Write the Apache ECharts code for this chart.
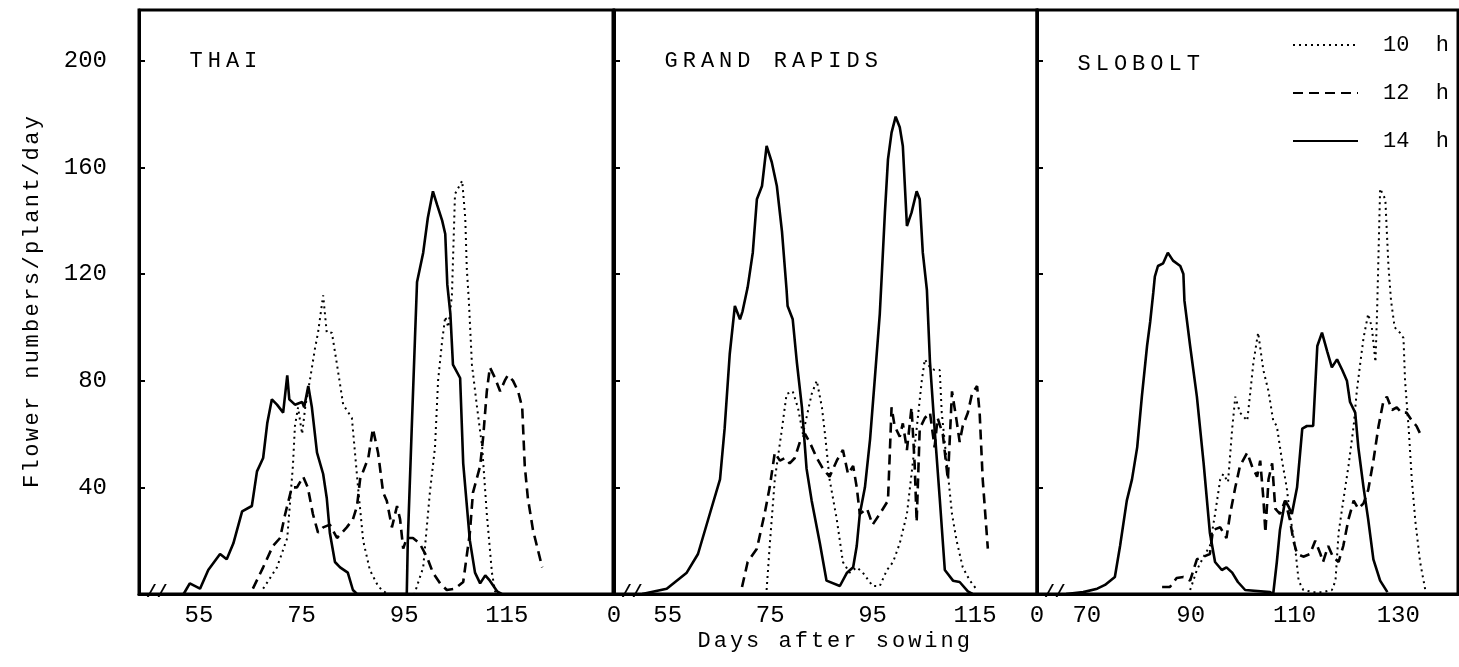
<!DOCTYPE html>
<html>
<head>
<meta charset="utf-8">
<script src="https://cdn.jsdelivr.net/npm/echarts@6/dist/echarts.min.js"></script>
<style>html,body{margin:0;padding:0;background:#fff}#c{width:1459px;height:667px}</style>
</head>
<body>
<div id="c"></div>
<script>
// ---- data: [day after sowing, flowers/plant/day] ----
const panelNames = ['THAI', 'GRAND RAPIDS', 'SLOBOLT'];
const seriesNames = ['10 h', '12 h', '14 h'];
const xTickLabels = [[55, 75, 95, 115], [55, 75, 95, 115], [70, 90, 110, 130]];
const yTickLabels = [40, 80, 120, 160, 200];

const thai10 = [[67.5,2],[70.2,10],[72.2,21],[73.3,48],[73.7,63],[74.3,70],[75.1,60],[75.7,70],[76.6,80],[77.6,92],[78.2,98],[79.2,112],[79.9,98],[80.9,98],[81.9,86],[83.1,71],[84.8,66],[85.4,53],[86,40],[87,20],[88.3,9],[89.9,3],[90.9,1],[92,0],[97,0],[97.5,3],[98.7,10],[100,38],[101,55],[101.6,80],[102.4,95],[103,104],[103.6,100],[104.3,112],[104.9,150],[106.3,155],[106.9,141],[107.2,122],[107.6,110],[108.2,86],[109.2,70],[110.2,55],[111.1,30],[112.1,8],[112.7,1],[113.5,0]];
const thai12 = [[65.5,2],[67.5,10],[69.4,18],[70.8,21],[71.8,30],[73.1,40],[74.1,40],[75.3,44],[76.2,40],[77.2,30],[78.2,23],[79.2,25],[80.5,26],[81.9,21],[83.8,25],[85,28],[85.8,33],[86.4,43],[87,46],[88,51],[88.9,62],[89.9,53],[90.9,38],[91.6,35],[92.6,25],[93.6,33],[94.2,28],[94.8,17],[95.5,21],[96.7,21],[98,19],[99.4,14],[100.6,8],[102,4],[103.3,1.5],[104.9,2],[106.5,4.5],[107.8,23],[108.4,38],[109.8,48],[110.4,59],[111.1,76],[111.7,85],[112.7,81],[113.7,76],[114.6,80],[115.2,82],[116.2,80],[117.2,76],[118,70],[118.5,48],[119.1,36],[120.1,24],[121.9,10]];
const thai14 = [[52,0],[53.2,4],[55.2,2],[56.8,9],[59.1,15],[60.4,13],[61.7,19],[63.4,31],[65.3,33],[66.3,46],[67.5,51],[68.3,64],[69.2,73],[70.2,71],[71.4,68],[72.2,82],[72.6,73],[73.7,71],[75.1,72],[75.5,70],[76.3,78],[77,70],[78,53],[79.2,45],[79.9,36],[80.5,23],[81.5,12],[82.5,10],[84,8],[85,1.5],[85.8,0],[95.5,0],[95.7,20],[96.5,64],[97.1,96],[97.5,117],[98.7,128],[99.6,141],[100.6,151],[101.4,146],[102.4,140],[103,135],[103.4,116],[104,105],[104.5,86],[105.9,81],[106.5,49],[107.8,20],[108.8,8],[109.8,4],[110.8,7],[111.7,5],[113.1,1],[114,0]];

const gr10 = [[74.3,1.5],[74.9,18],[75.9,43],[77.3,62],[78.2,75],[79.4,76],[80.4,70],[81.4,60],[82.3,68],[83.1,75],[84.1,80],[85.1,70],[85.7,60],[86.6,43],[88,28],[89.2,12],[90.5,8],[91.9,10],[93.1,8],[95,3],[96.4,3],[97.8,9],[99,12],[100.3,19],[101.7,30],[102.6,45],[103.6,62],[104.6,80],[105.2,88],[106.2,85],[107.1,84],[108.1,84],[108.5,68],[109.5,49],[110.5,30],[111.4,20],[112.6,10],[114,5],[115.4,1.5]];
const gr12 = [[69.5,2.6],[70.6,12],[72.4,17],[73.9,30],[74.9,40],[75.9,53],[76.9,50],[77.9,51],[78.8,49],[79.8,51],[80.8,57],[81.8,60],[82.7,57],[84.1,51],[85.3,47],[86.6,44],[88,50],[89.2,54],[90.2,45],[91.2,48],[91.9,40],[92.5,30],[93.9,32],[95,26],[96.4,30],[98,35],[98.7,70],[99.3,63],[100.3,59],[100.9,64],[101.7,54],[102.6,70],[103.2,49],[103.6,27],[104.2,62],[105.2,66],[106.2,68],[107.1,55],[107.7,66],[108.7,60],[109.7,43],[110.5,76],[111.4,65],[112,57],[112.6,63],[113.6,68],[114.4,75],[115.4,78],[115.9,68],[116.5,43],[117.5,17]];
const gr14 = [[50,0],[54.8,2],[58.7,8],[60.9,15],[63.2,30],[65.2,43],[66.1,62],[67.1,90],[68.1,108],[69.1,103],[69.6,106],[70.6,115],[71.6,128],[72.4,148],[73.4,153],[74.3,168],[75.3,162],[76.3,153],[77.3,136],[78.2,114],[78.4,108],[79.4,103],[80.2,87],[81.2,70],[82.1,47],[83.1,35],[84.7,19],[86,5],[88.6,3],[90,8],[91.2,10],[91.9,18],[92.5,30],[93.5,40],[94.5,58],[95.4,80],[96.4,105],[96.8,120],[97.4,143],[98,163],[98.7,173],[99.5,179],[100.3,175],[100.9,168],[101.7,138],[102.6,143],[103.6,151],[104.2,148],[104.8,128],[105.6,114],[106.2,87],[107.1,62],[108.1,36],[109.1,9],[110.7,5],[112,4.5],[113.6,1],[114.5,0]];

const sl10 = [[89.9,1.5],[91.2,9],[92.5,14],[93.7,18],[94.7,30],[95.7,43],[96.3,45],[97.2,42],[98,62],[98.6,74],[99.5,68],[100.9,65],[101.4,74],[102.1,87],[103,98],[104,84],[105,76],[105.9,65],[106.6,63],[107.6,50],[108.5,40],[109.1,30],[110.1,18],[110.8,5],[111.7,1.5],[113.6,0.7],[115.5,0.7],[117.2,1.5],[117.9,5],[118.5,23],[119.4,35],[120.4,48],[121.4,63],[122,76],[122.7,87],[123.3,96],[124.2,105],[124.9,100],[125.6,87],[125.9,105],[126.5,152],[127.5,148],[128.1,123],[128.6,110],[129.3,100],[130.3,98],[131,96],[131.3,80],[132,62],[132.6,43],[133.3,27],[134.2,12],[135.2,1.5]];
const sl12 = [[84.5,2.6],[86,2.6],[87.3,6],[88.6,6.4],[89.9,5],[91.2,13],[92.5,14],[93.7,15],[94.3,24],[95.7,25],[96.9,21],[97.6,30],[98.6,40],[99.5,48],[100.9,53],[101.8,48],[102.8,44],[103.4,50],[104,36],[104.4,23],[105,43],[105.7,49],[106.3,32],[107.2,30],[108.2,35],[109.1,28],[109.8,20],[110.5,15],[111.7,14],[113,15],[114,20],[115,15],[115.5,12],[116.5,18],[117.4,14],[118.5,12],[119.4,18],[120.4,28],[121.4,35],[122.3,32],[123.3,34],[124.2,39],[125.2,50],[126.2,63],[127.1,72],[127.8,74],[128.8,69],[129.7,70],[130.6,68],[131.6,68],[132.6,65],[133.5,63],[134.5,59]];
const sl14 = [[66,0],[69.3,0.7],[72,2],[73.5,3.4],[75.4,6.4],[76.4,18],[77.7,35],[78.7,43],[79.7,55],[80.6,74],[81.6,93],[82.2,102],[82.8,113],[83.1,119],[83.7,123],[84.7,124],[85.6,128],[86.6,125],[88,123],[88.6,120],[88.8,110],[89.9,93],[91.2,74],[92.5,49],[93.7,23],[94.7,12],[96,9],[96.9,10],[98,8],[99.1,4.5],[100.5,1.5],[105.3,0.7],[105.9,0],[106.6,12],[107.2,24],[108.2,35],[108.8,33],[109.5,30],[110.5,40],[111.5,62],[112.4,63],[113.6,63],[114.4,93],[115.3,98],[116.3,91],[117.2,85],[118.2,88],[119.2,84],[120.1,80],[120.7,72],[121.7,68],[122.3,55],[123.3,40],[124.2,28],[125.2,13],[126.5,5],[127.9,0.7]];

const panelData = [[thai10, thai12, thai14], [gr10, gr12, gr14], [sl10, sl12, sl14]];
const xRanges = [[43.3, 135.7], [44.5, 127.1], [60.4, 141.5]];
const yMax = 219;

// ---- styling ----
const FONT = '"Liberation Mono", "DejaVu Sans Mono", monospace';
const grids = [
  {left: 139, top: 10, width: 474, height: 584},
  {left: 614, top: 10, width: 423, height: 584},
  {left: 1037, top: 10, width: 421, height: 584}
];
const lineStyles = [
  {color: '#000', width: 2, type: [2, 4]},
  {color: '#000', width: 2.6, type: [10, 6]},
  {color: '#000', width: 2.6, type: 'solid'}
];
function spaced(str, key) {
  return str.split('').map(c => '{' + key + '|' + c + '}').join('');
}

const chart = echarts.init(document.getElementById('c'), null, {renderer: 'canvas'});

const option = {
  animation: false,
  backgroundColor: '#fff',
  grid: grids.map(g => Object.assign({show: true, borderColor: '#000', borderWidth: 3, backgroundColor: 'transparent', outerBoundsMode: 'none'}, g)),
  xAxis: xRanges.map((r, i) => ({
    type: 'value', gridIndex: i, min: r[0], max: r[1],
    axisLine: {show: true, onZero: false, lineStyle: {color: '#000', width: 3}},
    axisTick: {show: false},
    splitLine: {show: false},
    axisLabel: {
      customValues: (i === 0 ? [] : [r[0]]).concat(xTickLabels[i]),
      formatter: v => (Math.abs(v - r[0]) < 1e-6 ? '0' : String(v)),
      color: '#000', fontFamily: FONT, fontSize: 24, margin: 10
    }
  })),
  yAxis: [0, 1, 2].map(i => ({
    type: 'value', gridIndex: i, min: 0, max: yMax, interval: 40,
    axisLine: {show: true, lineStyle: {color: '#000', width: 3}},
    axisTick: {show: true, inside: true, length: 6, lineStyle: {color: '#000', width: 2}},
    splitLine: {show: false},
    axisLabel: {
      show: i === 0,
      formatter: v => (yTickLabels.indexOf(v) >= 0 ? String(v) : ''),
      color: '#000', fontFamily: FONT, fontSize: 24, margin: 32
    },
    name: i === 0 ? spaced('Flower numbers/plant/day', 'n') : '',
    nameLocation: 'middle', nameGap: 96, nameRotate: 90,
    nameTextStyle: {rich: {n: {fontFamily: FONT, fontSize: 22, fontWeight: 'normal', color: '#000', padding: [0, 1.2, 0, 1.2]}}}
  })),
  title: [
    {text: spaced(panelNames[0], 't'), left: 187, top: 50},
    {text: spaced(panelNames[1], 't'), left: 662, top: 50},
    {text: spaced(panelNames[2], 't'), left: 1075, top: 53},
    {text: spaced('Days after sowing', 'a'), left: 696, top: 630}
  ].map(t => Object.assign(t, {padding: 0, textStyle: {fontWeight: 'normal', rich: {
    t: {fontFamily: FONT, fontSize: 22, fontWeight: 'normal', color: '#000', padding: [0, 2.5, 0, 2.5]},
    a: {fontFamily: FONT, fontSize: 22, fontWeight: 'normal', color: '#000', padding: [0, 1.5, 0, 1.5]}
  }}})),
  legend: {
    data: seriesNames, orient: 'vertical', left: 1287, top: 29,
    itemWidth: 65, itemHeight: 14, itemGap: 26, selectedMode: false,
    itemStyle: {opacity: 0},
    formatter: n => n.replace(' ', '  '),
    textStyle: {fontFamily: FONT, fontSize: 22, color: '#000', padding: [0, 0, 0, 20]}
  },
  series: []
};

panelData.forEach((sets, i) => {
  sets.forEach((d, k) => {
    option.series.push({
      type: 'line', name: seriesNames[k], xAxisIndex: i, yAxisIndex: i,
      data: d, symbol: 'none', showSymbol: false, smooth: false,
      itemStyle: {color: '#000'},
      lineStyle: lineStyles[k], silent: true, z: 3 + k
    });
  });
});

chart.setOption(option);

// axis break marks "//" near the start of each x axis
const breaks = [];
[0, 1, 2].forEach(i => {
  const p = chart.convertToPixel({gridIndex: i}, [xRanges[i][0], 0]);
  breaks.push({type: 'text', x: p[0] + 7, y: p[1] - 11, z: 10,
    style: {text: '//', fill: '#000', font: 'bold 18px ' + FONT}});
});
chart.setOption({graphic: breaks});
</script>
</body>
</html>
